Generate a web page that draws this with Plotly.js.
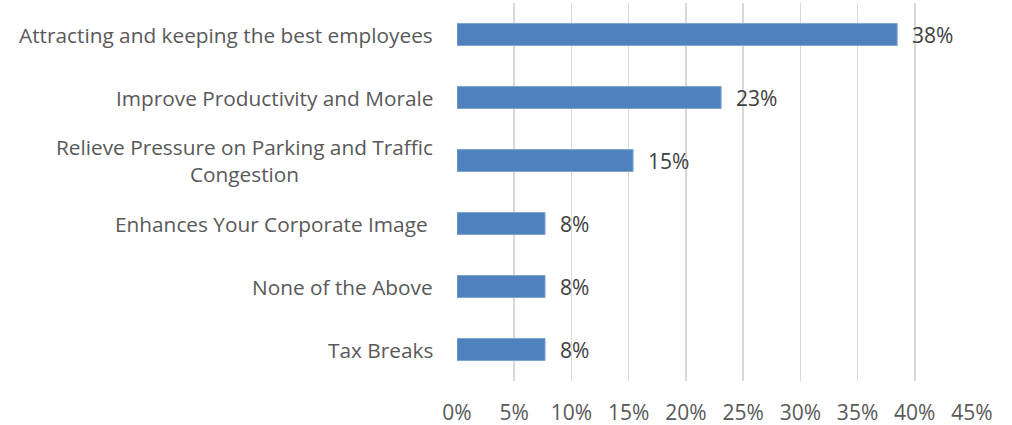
<!DOCTYPE html>
<html><head><meta charset="utf-8">
<script src="https://cdn.plot.ly/plotly-3.0.1.min.js"></script>
<style>html,body{margin:0;padding:0;background:#fff}#c{width:1012px;height:425px}</style>
</head><body><div id="c"></div>
<script>
const categories = [
  "Attracting and keeping the best employees",
  "Improve Productivity and Morale",
  "Relieve Pressure on Parking and Traffic<br>Congestion",
  "Enhances Your Corporate Image ",
  "None of the Above",
  "Tax Breaks"
];
const values = [5/13, 3/13, 2/13, 1/13, 1/13, 1/13];
const valueLabels = ["38%", "23%", "15%", "8%", "8%", "8%"];
const tickVals = [0, 0.05, 0.10, 0.15, 0.20, 0.25, 0.30, 0.35, 0.40, 0.45];
const tickLabels = ["0%", "5%", "10%", "15%", "20%", "25%", "30%", "35%", "40%", "45%"];

const FONT = "'Open Sans', sans-serif";
const ids = categories.map((c, i) => "c" + i);

const annotations = [];
categories.forEach((c, i) => {
  annotations.push({
    x: 0, xref: "paper", xanchor: "right", xshift: -22,
    y: ids[i], yref: "y", yanchor: "middle",
    text: c, showarrow: false, align: "center",
    font: {family: FONT, size: 20.8, color: "#595959"}
  });
  annotations.push({
    x: values[i], xref: "x", xanchor: "left", xshift: 13,
    y: ids[i], yref: "y", yanchor: "middle",
    text: valueLabels[i], showarrow: false,
    font: {family: FONT, size: 21, color: "#404040"}
  });
});

const data = [{
  type: "bar", orientation: "h",
  x: values, y: ids,
  marker: {color: "#4f81bd", line: {color: "#7fa3d3", width: 1}},
  hoverinfo: "skip"
}];

const layout = {
  width: 1012, height: 425,
  margin: {l: 457, r: 40, t: 3, b: 44},
  paper_bgcolor: "#fff", plot_bgcolor: "#fff",
  showlegend: false,
  bargap: 0.65,
  font: {family: FONT, size: 21, color: "#595959"},
  xaxis: {
    range: [0, 0.45], tickvals: tickVals, ticktext: tickLabels,
    showgrid: true, gridcolor: "#d9d9d9", gridwidth: 1.5,
    zeroline: false, showline: false, ticks: "",
    ticklabelstandoff: 17,
    tickfont: {family: FONT, size: 21, color: "#595959"}
  },
  yaxis: {
    autorange: "reversed", type: "category",
    showticklabels: false, showgrid: false, zeroline: false, showline: false, ticks: ""
  },
  annotations: annotations
};

Plotly.newPlot("c", data, layout, {staticPlot: true, displayModeBar: false});
</script></body></html>
